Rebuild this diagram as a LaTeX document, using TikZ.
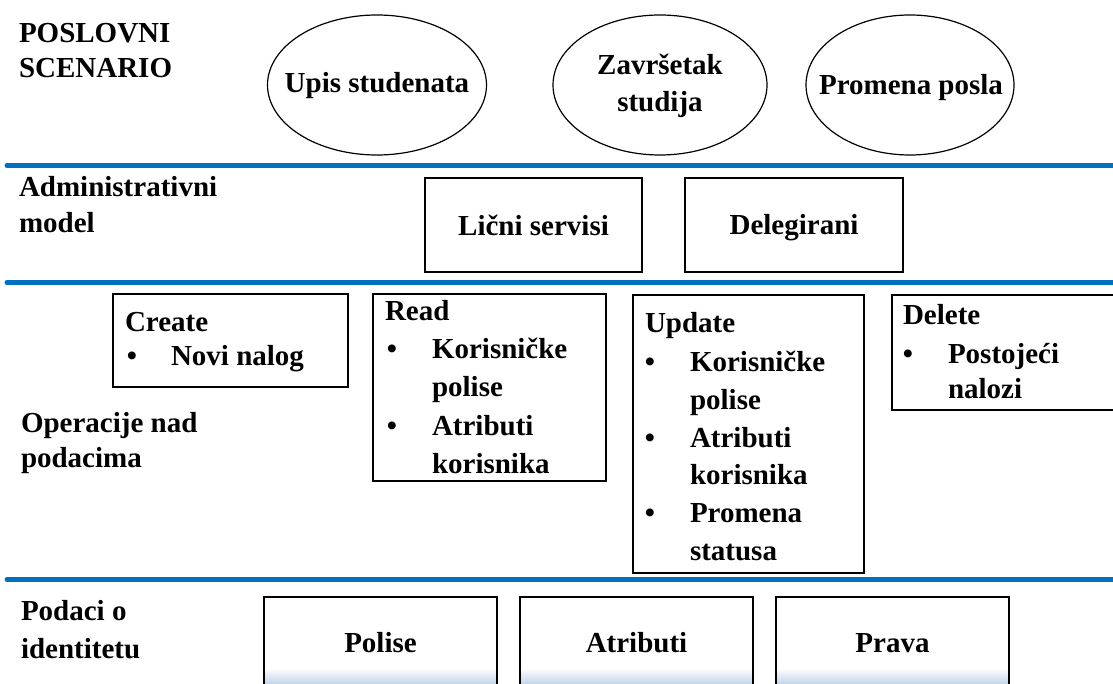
\documentclass[tikz,border=0pt]{standalone}
\usepackage{fontspec}
\setmainfont{Liberation Serif}
\usetikzlibrary{shapes.geometric}
\definecolor{rulecol}{HTML}{0070C0}
\definecolor{boxshade}{HTML}{C2D4EC}

\begin{document}
\begin{tikzpicture}[x=1pt,y=-1pt,
  every node/.style={font=\fontsize{29}{36}\selectfont\bfseries, inner sep=0pt, outer sep=0pt},
  txt/.style={anchor=base west},
  ctr/.style={anchor=base},
  blt/.style={anchor=base},
  layerrule/.style={draw=rulecol, line width=5pt, line cap=round},
  scenario/.style={draw, ellipse, line width=1.2pt, minimum width=#1, minimum height=140pt},
  opbox/.style={draw, line width=1.3pt, fill=white, rectangle},
]
\useasboundingbox (0,0) rectangle (1113,684);
\clip (0,0) rectangle (1113,684);

% layer separators
\draw[layerrule] (7,165.5) -- (1130,165.5);
\draw[layerrule] (7,282.5) -- (1130,282.5);
\draw[layerrule] (7,579.5) -- (1130,579.5);

% layer titles
\node[txt] (t1a) at (19,43) {POSLOVNI};
\node[txt] (t1b) at (19,78) {SCENARIO};
\node[txt] (t2a) at (19,197) {Administrativni};
\node[txt] (t2b) at (19,233) {model};
\node[txt] (t3a) at (21,432) {Operacije nad};
\node[txt] (t3b) at (21,467) {podacima};
\node[txt] (t4a) at (21,620) {Podaci o};
\node[txt] (t4b) at (21,658) {identitetu};

% business scenarios
\node[scenario=219pt] (upis) at (377,85) {};
\node[scenario=214pt] (zavr) at (660,85) {};
\node[scenario=208pt] (prom) at (910,85) {};
\node[ctr] (upisT) at (377,93) {Upis studenata};
\node[ctr] (zavrT1) at (660,75) {Završetak};
\node[ctr] (zavrT2) at (660,112) {studija};
\node[ctr] (promT) at (911,95) {Promena posla};

% administrative model
\node[opbox, minimum width=217pt, minimum height=94pt] (licni) at (533.5,225) {};
\node[opbox, minimum width=218pt, minimum height=94pt] (deleg) at (794,225) {};
\node[ctr] (licniT) at (533.5,236) {Lični servisi};
\node[ctr] (delegT) at (794,235) {Delegirani};

% data operations
\node[opbox, minimum width=235pt, minimum height=93pt] (create) at (230.5,340.5) {};
\node[opbox, minimum width=233pt, minimum height=187pt] (read) at (489.5,387.5) {};
\node[opbox, minimum width=231pt, minimum height=278pt] (update) at (748.5,434) {};
\node[opbox, minimum width=240pt, minimum height=115pt] (delete) at (1012,352.5) {};

\node[txt] (cH) at (125,332) {Create};
\node[blt] (cB1) at (132,365) {•};
\node[txt] (c1) at (171,365) {Novi nalog};

\node[txt] (rH) at (385,320) {Read};
\node[blt] (rB1) at (392,358) {•};
\node[txt] (r1a) at (432,358) {Korisničke};
\node[txt] (r1b) at (432,396) {polise};
\node[blt] (rB2) at (392,435) {•};
\node[txt] (r2a) at (432,435) {Atributi};
\node[txt] (r2b) at (432,473) {korisnika};

\node[txt] (uH) at (645,333) {Update};
\node[blt] (uB1) at (650,371) {•};
\node[txt] (u1a) at (690,371) {Korisničke};
\node[txt] (u1b) at (690,409) {polise};
\node[blt] (uB2) at (650,447) {•};
\node[txt] (u2a) at (690,447) {Atributi};
\node[txt] (u2b) at (690,484) {korisnika};
\node[blt] (uB3) at (650,522) {•};
\node[txt] (u3a) at (690,522) {Promena};
\node[txt] (u3b) at (690,560) {statusa};

\node[txt] (dH) at (903,325) {Delete};
\node[blt] (dB1) at (908,363) {•};
\node[txt] (d1a) at (948,363) {Postojeći};
\node[txt] (d1b) at (948,398) {nalozi};

% identity data
\foreach \nm/\cx in {pol/380.5, atr/636.5, pra/892.5}{
  \node[opbox, minimum width=233pt, minimum height=110pt] (\nm) at (\cx,652) {};
  \shade[top color=white, bottom color=boxshade]
    ([xshift=0.7pt]\nm.north west |- 0,668) rectangle ([xshift=-0.7pt]\nm.north east |- 0,684);
  \draw[line width=1.3pt] (\nm.north west) -- (\nm.south west) (\nm.north east) -- (\nm.south east);
}
\node[ctr] (polT) at (380.5,652) {Polise};
\node[ctr] (atrT) at (636.5,652) {Atributi};
\node[ctr] (praT) at (892.5,652) {Prava};
\end{tikzpicture}
\end{document}
